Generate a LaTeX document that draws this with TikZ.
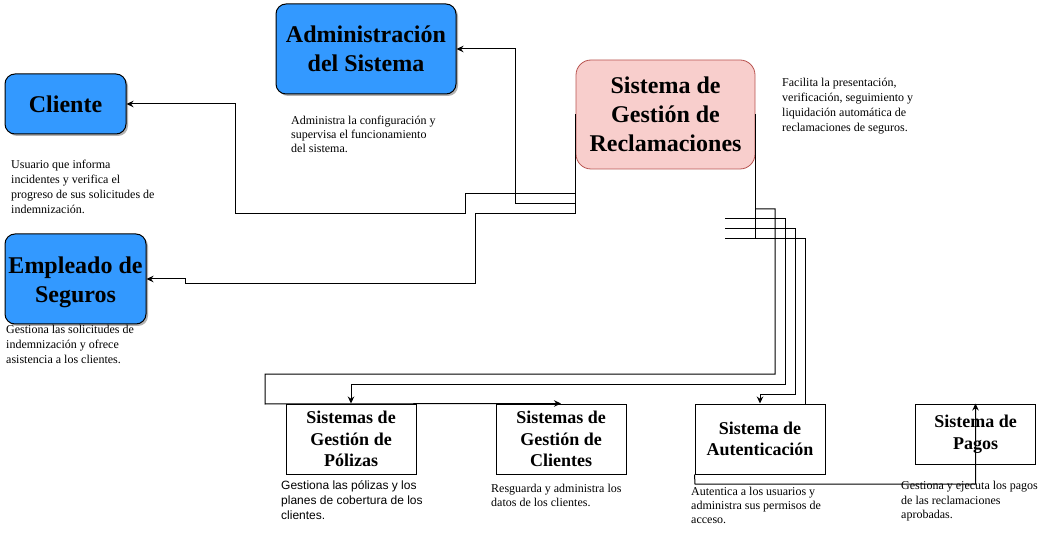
\documentclass[tikz,border=0pt]{standalone}
\usepackage{fontspec}
\setmainfont{Liberation Serif}
\newfontfamily\arialf{Liberation Sans}
\usetikzlibrary{arrows.meta,shadows}
\definecolor{bluebox}{HTML}{3399FF}
\definecolor{pinkfill}{HTML}{F8CECC}
\definecolor{pinkdraw}{HTML}{B85450}
\tikzset{
  bluenode/.style={draw=black, line width=1pt, fill=bluebox, rounded corners=10pt,
    align=center, inner sep=0pt,
    drop shadow={shadow xshift=2pt, shadow yshift=-2pt, opacity=0.3, fill=black},
    font=\fontsize{24}{29}\selectfont\bfseries},
  bluetext/.style={align=center, inner sep=0pt, font=\fontsize{24}{28.5}\selectfont\bfseries},
  centralnode/.style={draw=pinkdraw, line width=0.8pt, fill=pinkfill, rounded corners=15pt,
    align=center, inner sep=0pt, font=\fontsize{24}{29}\selectfont\bfseries},
  sysnode/.style={draw=black, line width=1pt, fill=white, align=center, inner sep=0pt,
    font=\fontsize{18}{21.5}\selectfont\bfseries},
  desc/.style={anchor=north west, align=left, inner sep=0pt, font=\fontsize{12}{15}\selectfont},
  ln/.style={draw=black, line width=1pt},
  arr/.style={ln, -{Stealth[length=7pt,width=6.5pt]}}
}
\begin{document}
\begin{tikzpicture}[x=1pt,y=-1pt]
\useasboundingbox (0,0) rectangle (1055,545);
% main nodes
\node[bluenode, minimum width=180pt, minimum height=90pt] (adm) at (366,49) {Administración\\del Sistema};
\node[bluenode, minimum width=121pt, minimum height=60pt] (cli) at (65.5,104) {Cliente};
\node[bluenode, minimum width=141pt, minimum height=90pt] (emp) at (75.5,279) {};
\node[bluetext, yshift=-3.5pt] (empT) at (emp.center) {Empleado de\\Seguros};
\node[centralnode, minimum width=179pt, minimum height=109pt] (cen) at (665.5,114.5) {Sistema de\\Gestión de\\Reclamaciones};
\node[sysnode, minimum width=130pt, minimum height=70pt] (pol) at (351,439) {Sistemas de\\Gestión de\\Pólizas};
\node[sysnode, minimum width=130pt, minimum height=70pt] (cgc) at (561,439) {Sistemas de\\Gestión de\\Clientes};
\node[sysnode, minimum width=130pt, minimum height=70pt] (aut) at (760,439) {Sistema de\\Autenticación};
\node[sysnode, minimum width=120pt, minimum height=60pt] (pag) at (975.5,434) {Sistema de\\Pagos};
% descriptions
\node[desc, font=\fontsize{12}{14}\selectfont] (admD) at (291,116) {Administra la configuración y\\supervisa el funcionamiento\\del sistema.};
\node[desc] (cliD) at (11,160) {Usuario que informa\\incidentes y verifica el\\progreso de sus solicitudes de\\indemnización.};
\node[desc] (empD) at (6,325) {Gestiona las solicitudes de\\indemnización y ofrece\\asistencia a los clientes.};
\node[desc] (cenD) at (782,78) {Facilita la presentación,\\verificación, seguimiento y\\liquidación automática de\\reclamaciones de seguros.};
\node[desc, font=\fontsize{12}{15}\selectfont\arialf] (polD) at (281,480) {Gestiona las pólizas y los\\planes de cobertura de los\\clientes.};
\node[desc, font=\fontsize{12}{14}\selectfont] (cgcD) at (491,484) {Resguarda y administra los\\datos de los clientes.};
\node[desc, font=\fontsize{12}{14}\selectfont] (autD) at (691,487) {Autentica a los usuarios y\\administra sus permisos de\\acceso.};
\node[desc, font=\fontsize{12}{14.5}\selectfont] (pagD) at (901,481) {Gestiona y ejecuta los pagos\\de las reclamaciones\\aprobadas.};
% left connectors
\draw[ln] (cen.west) -- (cen.west |- 0,214);
\draw[arr] (cen.west |- 0,194) -- (465,194) -- (465,214) -- (235,214) -- (235,104) -- (cli.east);
\draw[arr] (cen.west |- 0,204) -- (515,204) -- (515,49) -- (adm.east);
\draw[arr] (cen.west |- 0,214) -- (475,214) -- (475,284) -- (185,284) -- (185,279) -- (emp.east);
% right connectors
\coordinate (s1) at (725,219);
\coordinate (s2) at (725,229);
\coordinate (s3) at (725,239);
\draw[ln] (cen.east) -- (cen.east |- 0,239);
\draw[arr] (cen.east |- 0,209) -- (775,209) -- (775,374) -- (265,374) -- (265,404) -- (cgc.north);
\draw[arr] (s1) -- (785,219) -- (785,384) -- (pol.north |- 0,384) -- (pol.north);
\draw[arr] (s2) -- (795,229) -- (795,394) -- (aut.north |- 0,394) -- (aut.north);
\draw[ln] (s3) -- (805,239) -- (aut.north -| 805,0);
\draw[arr] (aut.south west) -- (695,484) -- (pag.north |- 0,484) -- (pag.north);
\end{tikzpicture}
\end{document}
